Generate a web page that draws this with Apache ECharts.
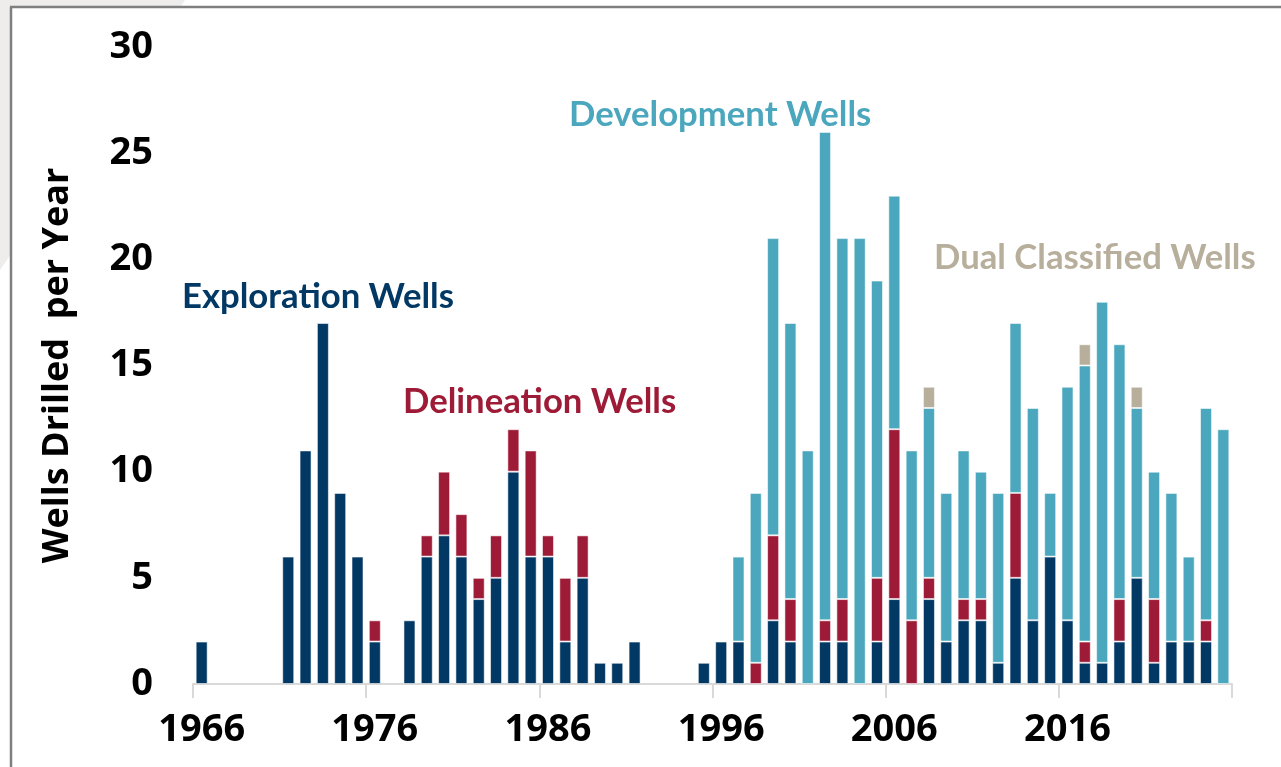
<!DOCTYPE html>
<html>
<head>
<meta charset="utf-8">
<script src="https://cdn.jsdelivr.net/npm/echarts@6/dist/echarts.min.js"></script>
<style>
  html, body { margin: 0; padding: 0; background: #fff; }
  #main { width: 1281px; height: 767px; }
</style>
</head>
<body>
<div id="main"></div>
<script>
// years 1966 - 2025
const years = []
for (let y = 1966; y <= 2025; y++) years.push(String(y))

const exploration = [
  2, 0, 0, 0, 0, 6, 11, 17, 9, 6,
  2, 0, 3, 6, 7, 6, 4, 5, 10, 6,
  6, 2, 5, 1, 1, 2, 0, 0, 0, 1,
  2, 2, 0, 3, 2, 0, 2, 2, 0, 2,
  4, 0, 4, 2, 3, 3, 1, 5, 3, 6,
  3, 1, 1, 2, 5, 1, 2, 2, 2, 0
]
const delineation = [
  0, 0, 0, 0, 0, 0, 0, 0, 0, 0,
  1, 0, 0, 1, 3, 2, 1, 2, 2, 5,
  1, 3, 2, 0, 0, 0, 0, 0, 0, 0,
  0, 0, 1, 4, 2, 0, 1, 2, 0, 3,
  8, 3, 1, 0, 1, 1, 0, 4, 0, 0,
  0, 1, 0, 2, 0, 3, 0, 0, 1, 0
]
const development = [
  0, 0, 0, 0, 0, 0, 0, 0, 0, 0,
  0, 0, 0, 0, 0, 0, 0, 0, 0, 0,
  0, 0, 0, 0, 0, 0, 0, 0, 0, 0,
  0, 4, 8, 14, 13, 11, 23, 17, 21, 14,
  11, 8, 8, 7, 7, 6, 8, 8, 10, 3,
  11, 13, 17, 12, 8, 6, 7, 4, 10, 12
]
const dual = [
  0, 0, 0, 0, 0, 0, 0, 0, 0, 0,
  0, 0, 0, 0, 0, 0, 0, 0, 0, 0,
  0, 0, 0, 0, 0, 0, 0, 0, 0, 0,
  0, 0, 0, 0, 0, 0, 0, 0, 0, 0,
  0, 0, 1, 0, 0, 0, 0, 0, 0, 0,
  0, 1, 0, 0, 1, 0, 0, 0, 0, 0
]

const NAVY = '#023864'
const RED = '#9e1b37'
const TEAL = '#4aa7bd'
const BEIGE = '#b7af9c'

const FONT = '"Open Sans", "DejaVu Sans", sans-serif'
const LABEL_FONT = 'Lato, "Open Sans", sans-serif'

function barSeries (name, data, color) {
  return {
    name,
    type: 'bar',
    stack: 'wells',
    data: data.map(v => (v === 0 ? '-' : v)),
    barWidth: 12,
    itemStyle: {
      color,
      borderColor: 'rgba(255,255,255,0.55)',
      borderWidth: 1
    },
    emphasis: { disabled: true }
  }
}

function caption (text, x, y, color) {
  return {
    type: 'text',
    x,
    y,
    style: { text, fill: color, font: `bold 34.7px ${LABEL_FONT}`, verticalAlign: 'middle' }
  }
}

const option = {
  animation: false,
  backgroundColor: '#fff',
  grid: {
    left: 193,
    right: 49,
    top: 47,
    bottom: 83
  },
  graphic: [
    // slide background + frame
    { type: 'polygon', z: -10, silent: true, shape: { points: [[0, 0], [185, 0], [0, 270]] }, style: { fill: '#eeedec' } },
    { type: 'rect', z: -9, silent: true, shape: { x: 11, y: 7, width: 1280, height: 770 }, style: { fill: '#fff' } },
    { type: 'line', z: -8, silent: true, shape: { x1: 11, y1: 7, x2: 11, y2: 767 }, style: { stroke: '#7f7f7f', lineWidth: 2.5 } },
    { type: 'line', z: -8, silent: true, shape: { x1: 10, y1: 7, x2: 1281, y2: 7 }, style: { stroke: '#7f7f7f', lineWidth: 2.5 } },
    // series captions
    caption('Exploration Wells', 182, 297, NAVY),
    caption('Delineation Wells', 403, 402, RED),
    caption('Development Wells', 569, 115, TEAL),
    caption('Dual Classified Wells', 934, 258, BEIGE)
  ],
  xAxis: {
    type: 'category',
    data: years,
    boundaryGap: true,
    axisLine: { lineStyle: { color: '#d9d9d9', width: 2 } },
    axisTick: { show: true, interval: 9, length: 14, lineStyle: { color: '#d9d9d9', width: 2 } },
    axisLabel: {
      interval: 9,
      margin: 27,
      color: '#000',
      fontWeight: 'bold',
      fontSize: 38,
      fontFamily: FONT
    }
  },
  yAxis: {
    type: 'value',
    min: 0,
    max: 30,
    interval: 5,
    name: 'Wells Drilled  per Year',
    nameLocation: 'middle',
    nameGap: 117,
    nameTextStyle: {
      color: '#000',
      fontWeight: 'bold',
      fontSize: 36,
      fontFamily: FONT
    },
    axisLine: { show: false },
    axisTick: { show: false },
    splitLine: { show: false },
    axisLabel: {
      margin: 40,
      color: '#000',
      fontWeight: 'bold',
      fontSize: 38,
      fontFamily: FONT
    }
  },
  series: [
    barSeries('Exploration Wells', exploration, NAVY),
    barSeries('Delineation Wells', delineation, RED),
    barSeries('Development Wells', development, TEAL),
    barSeries('Dual Classified Wells', dual, BEIGE)
  ]
}

const myChart = echarts.init(document.getElementById('main'))
myChart.setOption(option)
</script>
</body>
</html>
